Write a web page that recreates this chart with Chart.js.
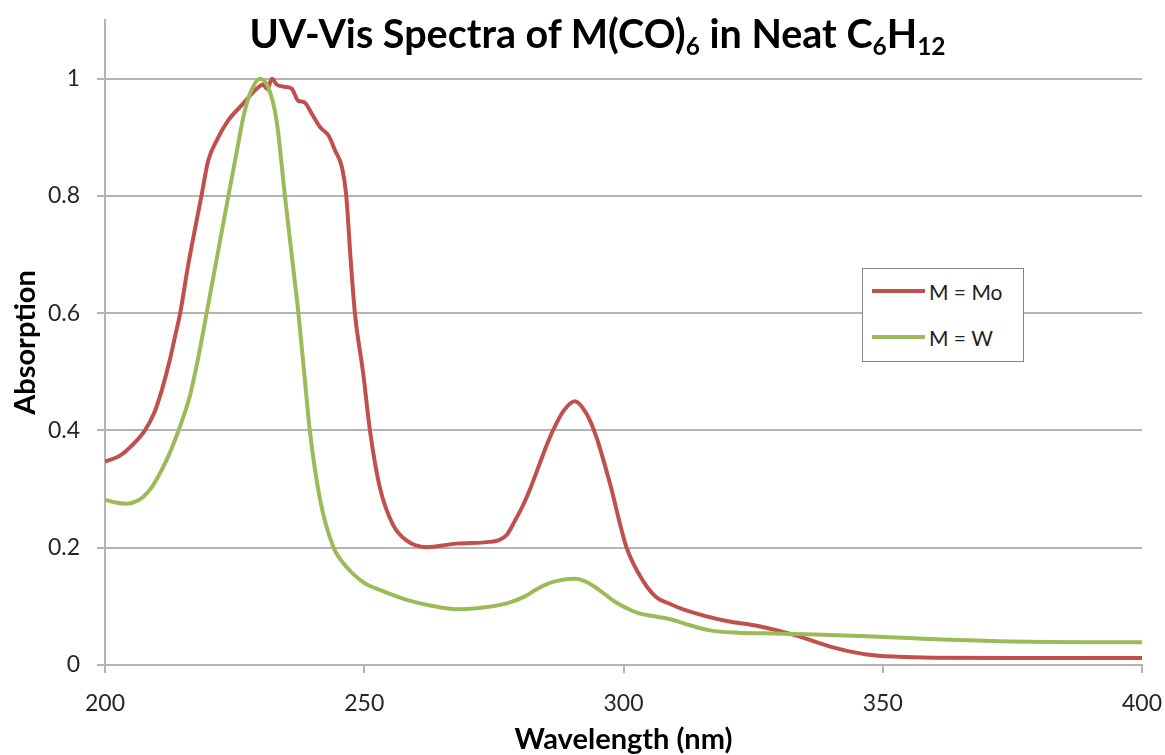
<!DOCTYPE html>
<html>
<head>
<meta charset="utf-8">
<script src="https://cdn.jsdelivr.net/npm/chart.js@4.4.0/dist/chart.umd.min.js"></script>
<style>
  html, body { margin: 0; padding: 0; background: #fff; }
  #wrap { position: relative; width: 1165px; height: 755px; }
  #title {
    position: absolute; left: 0; top: 9px; width: 1195px;
    text-align: center; font: bold 39.5px Lato, sans-serif; color: #000;
  }
  #title sub { font-size: 0.62em; vertical-align: -0.3em; line-height: 0; }
  #legend {
    position: absolute; left: 862px; top: 268px; width: 162px; height: 94px;
    box-sizing: border-box; border: 1px solid #858585; background: #fff;
    font: 21px Lato, sans-serif; color: #222;
  }
  .item { position: absolute; left: 9px; height: 24px; display: flex; align-items: center; }
  .swatch { width: 53px; height: 4px; margin-right: 4px; }
</style>
</head>
<body>
<div id="wrap">
  <canvas id="chart" width="1165" height="755"></canvas>
  <div id="title">UV-Vis Spectra of M(CO)<sub>6</sub> in Neat C<sub>6</sub>H<sub>12</sub></div>
  <div id="legend"></div>
</div>
<script>
// data
const seriesLabels = ['M = Mo', 'M = W'];
const seriesColors = ['#C0504D', '#9BBB59'];

const moWavelength = [200, 202.9, 205.5, 207.7, 209.5, 211, 212.5, 213.5, 214.5, 216, 217.5, 218.6, 219.9, 221.5,
  223.7, 226.6, 229.3, 230.5, 231.3, 232.2, 233.1, 234.7, 236, 237.3, 238.4, 239.9, 241.5, 243.1, 244.4, 245.7,
  246.5, 247.4, 248.2, 249.8, 251.1, 253, 255.5, 258.2, 262, 267.8, 274.2, 276, 277.5, 279, 280.6, 282.2, 283.9,
  285.2, 286.4, 288.4, 290.6, 292.9, 294.8, 297.4, 300.6, 303.8, 306.4, 309, 311.5, 319.9, 325.7, 333.4, 340.4,
  346.9, 353, 359.7, 375, 400];
const moAbsorption = [0.347, 0.357, 0.377, 0.40, 0.43, 0.47, 0.52, 0.56, 0.60, 0.68, 0.75, 0.80, 0.86, 0.894,
  0.928, 0.957, 0.983, 0.99, 0.982, 1.0, 0.99, 0.986, 0.983, 0.962, 0.96, 0.94, 0.917, 0.903, 0.877, 0.849,
  0.803, 0.689, 0.60, 0.497, 0.40, 0.303, 0.24, 0.212, 0.201, 0.207, 0.21, 0.213, 0.222, 0.245, 0.272, 0.305, 0.345,
  0.375, 0.40, 0.433, 0.45, 0.428, 0.388, 0.309, 0.20, 0.143, 0.115, 0.104, 0.095, 0.075, 0.067, 0.05, 0.03,
  0.018, 0.014, 0.0125, 0.012, 0.012];

const wWavelength = [200, 202, 204.2, 206, 207.4, 209, 210.6, 212, 213.2, 214.8, 216.4, 218, 219.6, 221.7, 223.8,
  225.5, 226.7, 228, 229.9, 231.5, 233.1, 234.7, 236, 237.3, 238.4, 239.5, 241.5, 244, 246.6, 250, 253, 258.2,
  263, 267.8, 272, 277.5, 281, 283, 285, 287, 290.6, 292.5, 294.5, 296.5, 298.5, 300.6, 303, 306, 309, 312,
  316.7, 322, 327.6, 337, 346.9, 355, 363, 375, 390, 400];
const wAbsorption = [0.282, 0.277, 0.275, 0.279, 0.287, 0.303, 0.327, 0.352, 0.377, 0.415, 0.46, 0.525, 0.60, 0.70,
  0.80, 0.88, 0.935, 0.975, 1.0, 0.985, 0.928, 0.80, 0.70, 0.60, 0.50, 0.40, 0.281, 0.202, 0.167, 0.14, 0.128, 0.111,
  0.101, 0.095, 0.097, 0.105, 0.117, 0.128, 0.137, 0.143, 0.147, 0.143, 0.133, 0.12, 0.107, 0.097, 0.088, 0.083,
  0.078, 0.07, 0.059, 0.055, 0.054, 0.052, 0.049, 0.046, 0.043, 0.04, 0.039, 0.039];

const xTicks = [200, 250, 300, 350, 400];
const yTicks = [0, 0.2, 0.4, 0.6, 0.8, 1];

const toPoints = (xs, ys) => xs.map((x, i) => ({ x: x, y: ys[i] }));
const axisGray = '#b4b4b4';

// keep the plot box where the padding puts it (no extra room for edge labels)
const noEdgePadding = s => { s.paddingTop = 0; s.paddingBottom = 0; s.paddingLeft = 0; s.paddingRight = 0; };

const chart = new Chart(document.getElementById('chart'), {
  type: 'line',
  data: {
    datasets: [
      { label: seriesLabels[0], data: toPoints(moWavelength, moAbsorption), borderColor: seriesColors[0], order: 1 },
      { label: seriesLabels[1], data: toPoints(wWavelength, wAbsorption), borderColor: seriesColors[1], order: 0 }
    ]
  },
  options: {
    responsive: false,
    devicePixelRatio: 1,
    animation: false,
    layout: { padding: { top: 20, right: 23, left: 0, bottom: 0 } },
    elements: {
      line: { borderWidth: 4, fill: false, cubicInterpolationMode: 'monotone' },
      point: { radius: 0 }
    },
    plugins: { legend: { display: false }, tooltip: { enabled: false } },
    scales: {
      x: {
        type: 'linear', min: 200, max: 400,
        afterBuildTicks: ax => { ax.ticks = xTicks.map(v => ({ value: v })); },
        afterFit: s => { s.height = 90; noEdgePadding(s); },
        grid: { drawOnChartArea: false, drawTicks: true, tickLength: 8, color: axisGray, lineWidth: 2 },
        border: { color: axisGray, width: 2 },
        ticks: { font: { family: 'Lato', size: 23 }, color: '#262626', padding: 17, maxRotation: 0 },
        title: { display: true, text: 'Wavelength (nm)', color: '#000',
                 font: { family: 'Lato', size: 29, weight: 'bold' }, padding: { top: 0, bottom: -2 } }
      },
      y: {
        min: 0, max: 1.1,
        afterBuildTicks: ax => { ax.ticks = yTicks.map(v => ({ value: v })); },
        afterFit: s => { s.width = 105; noEdgePadding(s); },
        grid: { color: axisGray, lineWidth: 2, tickLength: 8 },
        border: { color: axisGray, width: 2 },
        ticks: { font: { family: 'Lato', size: 23 }, color: '#262626', padding: 17,
                 callback: v => String(Math.round(v * 10) / 10) },
        title: { display: true, text: 'Absorption', color: '#000',
                 font: { family: 'Lato', size: 29, weight: 'bold' }, padding: { top: 8, bottom: 0 } }
      }
    }
  }
});

// legend box inside the plot, built from the datasets
const legend = document.getElementById('legend');
const rows = [10, 56];
chart.data.datasets.forEach((ds, i) => {
  const item = document.createElement('div');
  item.className = 'item';
  item.style.top = rows[i] + 'px';
  item.innerHTML = '<span class="swatch" style="background:' + ds.borderColor + '"></span>' + ds.label;
  legend.appendChild(item);
});
</script>
</body>
</html>
